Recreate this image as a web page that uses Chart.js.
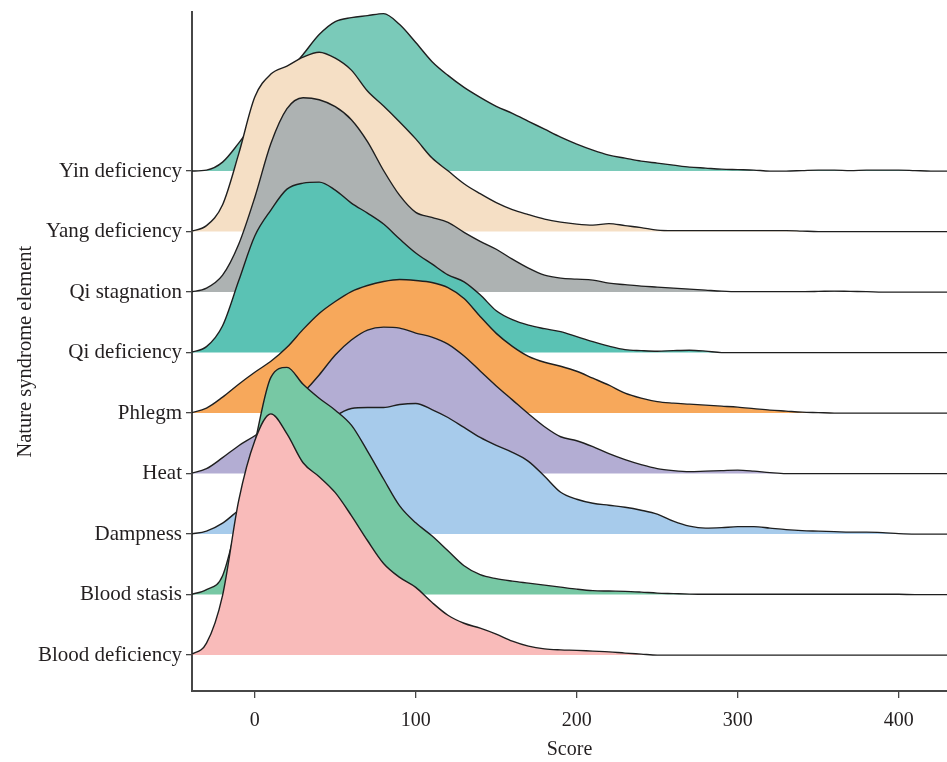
<!DOCTYPE html>
<html>
<head>
<meta charset="utf-8">
<title>Nature syndrome element scores</title>
<script src="https://cdn.jsdelivr.net/npm/chart.js@4/dist/chart.umd.min.js"></script>
<style>
  html, body { margin: 0; padding: 0; background: #ffffff; }
  #wrap { width: 947px; height: 762px; }
</style>
</head>
<body>
<div id="wrap"><canvas id="ridges" width="947" height="762"></canvas></div>
<script>
// Score grid on which each density curve is sampled
const scores = [-40, -30, -20, -10, 0, 10, 20, 30, 40, 50, 60, 70, 80, 90, 100, 110, 120, 130, 140, 150,
  160, 170, 180, 190, 200, 210, 220, 230, 240, 250, 260, 270, 280, 290, 300, 310, 320, 330, 340, 350,
  360, 370, 380, 390, 400, 410, 420, 430];

// Row categories, bottom row first
const categories = ['Blood deficiency', 'Blood stasis', 'Dampness', 'Heat', 'Phlegm',
  'Qi deficiency', 'Qi stagnation', 'Yang deficiency', 'Yin deficiency'];

// Relative densities per score (one row step = 60.7 units)
const bloodDeficiency = [0, 12, 60, 155, 215, 242, 222, 193, 179, 163, 140, 115, 92, 78, 68, 53, 40, 32, 27, 21,
  14, 9, 6.3, 5.3, 4.8, 4, 3.3, 2, 1, 0, 0, 0, 0, 0, 0, 0, 0, 0, 0, 0, 0, 0, 0, 0, 0, 0, 0, 0];
const bloodStasis = [0, 5, 19, 80, 152, 218, 228, 211, 197, 185, 170, 144, 116, 89, 72, 59, 44, 29, 20, 16,
  13.5, 11.5, 9.5, 7.5, 5.5, 4, 3.6, 3.3, 2.5, 1.5, 1, 0.5, 0.3, 0.3, 0.3, 0.3, 0.3, 0.3, 0.3, 0.3,
  0.3, 0.3, 0.3, 0.3, 0.3, 0, 0, 0];
const dampness = [0, 3, 11, 24, 36, 50, 67, 85, 103, 118, 126, 127, 127, 130, 131, 125, 117, 107, 97, 89,
  82, 73, 58, 42, 35, 31, 29, 27, 24, 20, 13, 8, 6, 6.5, 7.5, 7.5, 6, 4.5, 3.5, 3,
  2.5, 2, 2, 1.5, 0.5, 0, 0, 0];
const heat = [0, 5, 16, 28, 38, 50, 65, 81, 99, 119, 134, 144, 147, 146, 141, 137, 130, 118, 103, 88,
  74, 60, 47, 37, 33, 27, 20, 14, 9, 5, 3, 2, 2.5, 3, 3.5, 2.5, 1, 0, 0, 0,
  0, 0, 0, 0, 0, 0, 0, 0];
const phlegm = [0, 5, 16, 29, 41, 52, 66, 84, 100, 112, 122, 128, 132, 134, 133, 131, 126, 115, 97, 80,
  67, 57, 51, 47, 42, 35, 28, 20, 15, 11.5, 10, 9, 8, 7, 6, 4.5, 3, 2, 1, 0.5,
  0, 0, 0, 0, 0, 0, 0, 0];
const qiDeficiency = [0, 6, 27, 72, 117, 143, 164, 170, 171, 163, 150, 140, 129, 114, 100, 89, 78, 71, 58, 42,
  33, 27.5, 24, 21, 16, 11, 6.5, 3, 2, 1.4, 2, 2.4, 1.5, 0, 0, 0, 0, 0, 0, 0,
  0, 0, 0, 0, 0, 0, 0, 0];
const qiStagnation = [0, 4, 17, 48, 95, 149, 184, 195, 193, 186, 173, 151, 122, 97, 80, 75, 70, 60, 51, 43,
  33, 24, 17, 14, 13, 12, 9, 7.5, 6, 5, 4, 3, 2, 1, 0.5, 0.5, 0.5, 0.5, 0.5, 0.7,
  1, 0.7, 0.5, 0, 0, 0, 0, 0];
const yangDeficiency = [0, 6, 27, 78, 135, 158, 166, 175, 180, 174, 162, 141, 126, 110, 93, 74, 61, 48, 38, 29,
  22, 17, 12.5, 9.5, 7.5, 6.5, 8, 6, 4, 1.5, 1, 1, 1, 1, 1, 1, 1, 1, 0.5, 0,
  0, 0, 0, 0, 0, 0, 0, 0];
const yinDeficiency = [0, 1, 9, 28, 50, 75, 98, 117, 137, 150, 154, 156, 158, 147, 129, 110, 96, 84, 74, 65,
  58, 50, 42, 34, 27, 21, 16, 13, 10, 8, 6, 4, 3, 2, 1.5, 1, 0, 0, 0.5, 1,
  1, 0.5, 1, 1, 1, 0.5, 0, 0];

const xTicks = [0, 100, 200, 300, 400];

const seriesByRow = [bloodDeficiency, bloodStasis, dampness, heat, phlegm,
  qiDeficiency, qiStagnation, yangDeficiency, yinDeficiency];
const rowColors = ['#F9BBBA', '#77C8A4', '#A7CBEB', '#B3ADD3', '#F7A85B',
  '#5AC2B4', '#ADB2B2', '#F5DFC5', '#7ACAB9'];
const DENSITY_PER_ROW = 60.7;

// First dataset is painted last, so the lower rows overlap the ones above them.
const datasets = seriesByRow.map((series, row) => ({
  label: categories[row],
  data: scores.map((s, k) => ({ x: s, y: row + series[k] / DENSITY_PER_ROW })),
  fill: { value: row },
  backgroundColor: rowColors[row],
  borderColor: '#1f1f1f',
  borderWidth: 1.4,
  pointRadius: 0,
  cubicInterpolationMode: 'monotone'
}));

const serif = "'Liberation Serif', 'Times New Roman', serif";
const inkColor = '#231f20';
const axisColor = '#474747';

new Chart(document.getElementById('ridges'), {
  type: 'line',
  data: { datasets },
  options: {
    responsive: false,
    devicePixelRatio: 1,
    animation: false,
    layout: { padding: { top: 10, right: 0, bottom: 0, left: 0 } },
    plugins: { legend: { display: false }, tooltip: { enabled: false } },
    scales: {
      x: {
        type: 'linear',
        min: -39,
        max: 430,
        afterBuildTicks: (axis) => { axis.ticks = xTicks.map(v => ({ value: v })); },
        afterFit: (axis) => { axis.height = 71; },
        ticks: { font: { family: serif, size: 20 }, color: inkColor, padding: 11, maxRotation: 0, autoSkip: false },
        grid: { drawOnChartArea: false, drawTicks: true, tickLength: 7, color: axisColor, lineWidth: 1.3 },
        border: { display: true, color: axisColor, width: 2 },
        title: { display: true, text: 'Score', font: { family: serif, size: 20 }, color: inkColor, padding: { top: 0, bottom: 0 } }
      },
      y: {
        type: 'linear',
        min: -0.593,
        max: 10.623,
        afterBuildTicks: (axis) => { axis.ticks = categories.map((c, i) => ({ value: i })); },
        afterFit: (axis) => { axis.width = 192; },
        ticks: {
          font: { family: serif, size: 21, lineHeight: 0.8 }, color: inkColor, padding: 4, autoSkip: false,
          callback: (v) => categories[v]
        },
        grid: { drawOnChartArea: false, drawTicks: true, tickLength: 6, color: axisColor, lineWidth: 1.3 },
        border: { display: true, color: axisColor, width: 2 },
        title: { display: true, text: 'Nature syndrome element', font: { family: serif, size: 20.5 }, color: inkColor, padding: { top: 13, bottom: 0 } }
      }
    }
  }
});
</script>
</body>
</html>
